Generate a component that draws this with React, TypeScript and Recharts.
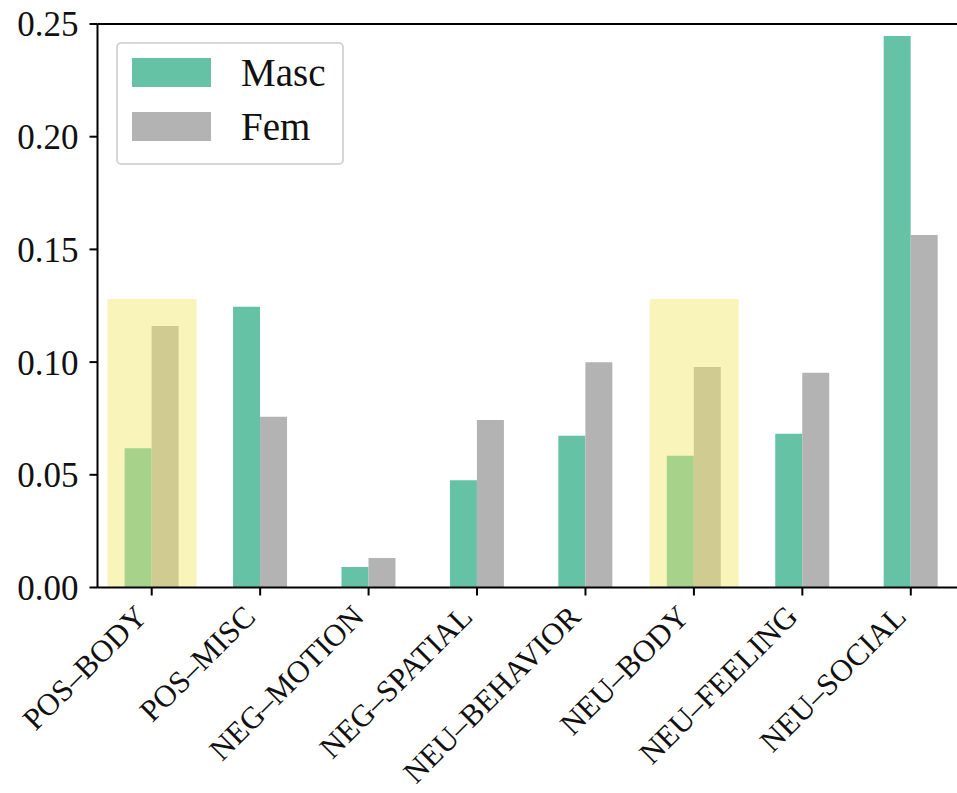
import React from 'react';
import {
  BarChart,
  Bar,
  XAxis,
  YAxis,
  ReferenceLine,
} from 'recharts';

const categories = [
  'POS–BODY',
  'POS–MISC',
  'NEG–MOTION',
  'NEG–SPATIAL',
  'NEU–BEHAVIOR',
  'NEU–BODY',
  'NEU–FEELING',
  'NEU–SOCIAL',
];
const masc = [0.0618, 0.1246, 0.0091, 0.0476, 0.0673, 0.0585, 0.0682, 0.2447];
const fem = [0.116, 0.0758, 0.0131, 0.0743, 0.0999, 0.0978, 0.0953, 0.1564];
// yellow boxes drawn over the two BODY categories
const highlight = [0.128, null, null, null, null, 0.128, null, null];
const yTicks = [0, 0.05, 0.1, 0.15, 0.2, 0.25];

const data = categories.map((name, i) => ({
  name,
  masc: masc[i],
  fem: fem[i],
  hl: highlight[i],
}));

const FONT = '"Liberation Serif", "DejaVu Serif", serif';
const GREEN = '#66c2a5';
const GRAY = '#b3b3b3';

function RotatedTick(props: any) {
  const { x, y, payload } = props;
  return (
    <text
      transform={`translate(${x - 3},${y + 21}) rotate(-45)`}
      textAnchor="end"
      style={{ fontFamily: FONT }}
      fontSize={31}
      fill="#111"
    >
      {payload.value}
    </text>
  );
}

function LegendBox() {
  const row = (color: string, label: string, top: number) => (
    <div style={{ position: 'absolute', left: 14, top, display: 'flex', alignItems: 'center' }}>
      <div style={{ width: 79, height: 29, background: color }} />
      <span style={{ marginLeft: 30, fontFamily: FONT, fontSize: 39, lineHeight: '29px', color: '#111' }}>
        {label}
      </span>
    </div>
  );
  return (
    <div
      style={{
        position: 'absolute',
        left: 116,
        top: 42,
        width: 224,
        height: 119,
        border: '2px solid #d6d6d6',
        borderRadius: 5,
        background: 'rgba(255,255,255,0.8)',
      }}
    >
      {row(GREEN, 'Masc', 14)}
      {row(GRAY, 'Fem', 68)}
    </div>
  );
}

export default function App() {
  return (
    <div
      style={{
        position: 'absolute',
        left: 0,
        top: 0,
        width: 957,
        height: 793,
        overflow: 'hidden',
        background: '#fff',
        fontFamily: FONT,
      }}
    >
      <BarChart
        width={970}
        height={793}
        data={data}
        margin={{ top: 24, right: 5, bottom: 0, left: 0 }}
        barCategoryGap="25%"
        barGap={0}
        style={{ fontFamily: FONT }}
      >
        <XAxis
          dataKey="name"
          height={205.5}
          interval={0}
          tickSize={8}
          tickMargin={2}
          axisLine={{ stroke: '#000', strokeWidth: 2 }}
          tickLine={{ stroke: '#000', strokeWidth: 2 }}
          tick={<RotatedTick />}
        />
        <XAxis dataKey="name" xAxisId="hl" hide />
        <YAxis
          width={97.5}
          domain={[0, 0.25]}
          ticks={yTicks}
          tickFormatter={(v: number) => v.toFixed(2)}
          tickSize={8}
          tickMargin={11}
          axisLine={{ stroke: '#000', strokeWidth: 2 }}
          tickLine={{ stroke: '#000', strokeWidth: 2 }}
          tick={{ fontFamily: FONT, fontSize: 35, fill: '#111' }}
        />
        <ReferenceLine y={0.25} stroke="#000" strokeWidth={2} />
        <Bar dataKey="masc" fill={GREEN} isAnimationActive={false} />
        <Bar dataKey="fem" fill={GRAY} isAnimationActive={false} />
        <Bar
          dataKey="hl"
          xAxisId="hl"
          barSize={89}
          fill="#f3e868"
          fillOpacity={0.46}
          isAnimationActive={false}
        />
      </BarChart>
      <LegendBox />
    </div>
  );
}
